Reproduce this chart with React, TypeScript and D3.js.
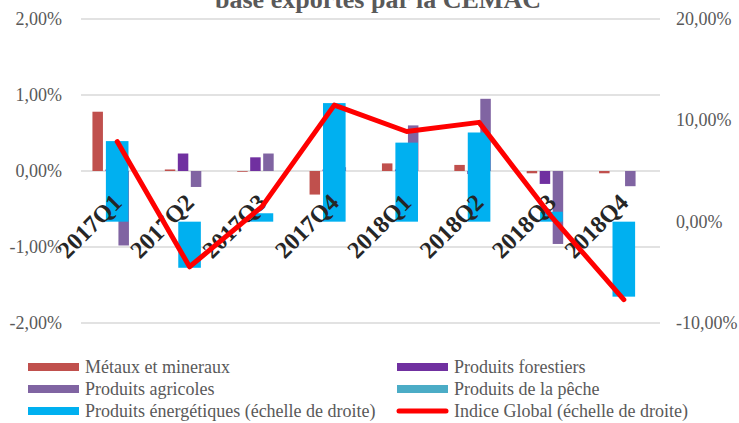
import React from "react";
import * as d3 from "d3";

const categories = ["2017Q1", "2017Q2", "2017Q3", "2017Q4", "2018Q1", "2018Q2", "2018Q3", "2018Q4"];
// left axis (%)
const metaux = [0.78, 0.02, -0.01, -0.31, 0.1, 0.08, -0.03, -0.03];
const forestiers = [0.02, 0.23, 0.18, 0.02, 0.02, -0.04, -0.17, 0.0];
const agricoles = [-0.98, -0.21, 0.23, 0.05, 0.6, 0.95, -0.96, -0.2];
const peche = [0.0, 0.0, 0.0, 0.0, 0.0, 0.0, 0.0, 0.0];
// right axis (%)
const energetiques = [7.95, -4.55, 0.83, 11.7, 7.8, 8.8, 0.98, -7.4];
const indiceGlobal = [7.9, -4.45, 1.48, 11.5, 8.9, 9.8, 0.5, -7.7];

const leftTicks = [-2, -1, 0, 1, 2];
const rightTicks = [-10, 0, 10, 20];

const title = "base exportés par la CEMAC";

const leftSeries = [
  { name: "Métaux et mineraux", values: metaux, color: "#C0504D" },
  { name: "Produits forestiers", values: forestiers, color: "#7030A0" },
  { name: "Produits agricoles", values: agricoles, color: "#8064A2" },
  { name: "Produits de la pêche", values: peche, color: "#4BACC6" },
];

const fmt = (v: number) => v.toFixed(2).replace(".", ",") + "%";

export default function App() {
  const W = 739, H = 423;
  const x0 = 81, x1 = 660;
  const yTop = 19, yBot = 323;
  const x = d3.scaleBand().domain(categories).range([x0, x1]).padding(0);
  const yL = d3.scaleLinear().domain([-2, 2]).range([yBot, yTop]);
  const yR = d3.scaleLinear().domain([-10, 20]).range([yBot, yTop]);
  const step = 13, bw = 10.5, ebw = 22.6;
  const cx = (c: string) => (x(c) as number) + x.bandwidth() / 2;
  const ff = "'Liberation Serif', 'Times New Roman', Times, serif";
  const ts = { fontFamily: ff };
  const line = d3
    .line<number>()
    .x((_, i) => cx(categories[i]))
    .y((d) => yR(d));

  const legend = [
    { name: "Métaux et mineraux", color: "#C0504D", type: "rect" },
    { name: "Produits forestiers", color: "#7030A0", type: "rect" },
    { name: "Produits agricoles", color: "#8064A2", type: "rect" },
    { name: "Produits de la pêche", color: "#4BACC6", type: "rect" },
    { name: "Produits énergétiques (échelle de droite)", color: "#00B0F0", type: "rect" },
    { name: "Indice Global (échelle de droite)", color: "#FF0000", type: "line" },
  ];

  return (
    <svg width={W} height={H} style={{ position: "absolute", left: 0, top: 0, fontFamily: ff }}>
      <rect width={W} height={H} fill="#fff" />
      <text x={378} y={8} textAnchor="middle" fontSize={26} fontWeight="bold" fill="#595959" style={ts}>
        {title}
      </text>
      {leftTicks.map((t) => (
        <g key={"l" + t}>
          <line x1={x0} x2={x1} y1={yL(t)} y2={yL(t)} stroke="#D9D9D9" strokeWidth={1.3} />
          <text x={62} y={yL(t) + 6} textAnchor="end" fontSize={18} fill="#595959" style={ts}>
            {fmt(t)}
          </text>
        </g>
      ))}
      {rightTicks.map((t) => (
        <text key={"r" + t} x={676} y={yR(t) + 6} textAnchor="start" fontSize={18} fill="#595959" style={ts}>
          {fmt(t)}
        </text>
      ))}
      {leftSeries.map((s, si) =>
        s.values.map((v, i) => {
          const c = cx(categories[i]);
          const off = (si - 1.5) * step;
          const y0 = yL(0), yv = yL(v);
          return (
            <rect
              key={s.name + i}
              x={c + off - bw / 2}
              width={bw}
              y={Math.min(y0, yv)}
              height={Math.abs(yv - y0)}
              fill={s.color}
            />
          );
        })
      )}
      {energetiques.map((v, i) => {
        const c = cx(categories[i]);
        const y0 = yR(0), yv = yR(v);
        return (
          <rect
            key={"e" + i}
            x={c - ebw / 2}
            width={ebw}
            y={Math.min(y0, yv)}
            height={Math.abs(yv - y0)}
            fill="#00B0F0"
          />
        );
      })}
      {categories.map((c) => (
        <text
          key={"c" + c}
          transform={`translate(${cx(c) + 6},${204}) rotate(-45)`}
          textAnchor="end"
          fontSize={24}
          fontWeight="bold"
          fill="#262626"
          style={ts}
        >
          {c}
        </text>
      ))}
      <path d={line(indiceGlobal) as string} fill="none" stroke="#FF0000" strokeWidth={5} strokeLinejoin="round" strokeLinecap="round" />
      {legend.map((l, i) => {
        const col = i % 2, row = Math.floor(i / 2);
        const lx = col === 0 ? 28 : 397;
        const ly = 367 + row * 22;
        return (
          <g key={"lg" + i}>
            {l.type === "rect" ? (
              <rect x={lx} y={ly - 4} width={51} height={8} fill={l.color} />
            ) : (
              <line x1={lx + 2} x2={lx + 49} y1={ly} y2={ly} stroke={l.color} strokeWidth={5} strokeLinecap="round" />
            )}
            <text x={lx + 57} y={ly + 6} fontSize={18} fill="#595959" style={ts}>
              {l.name}
            </text>
          </g>
        );
      })}
    </svg>
  );
}
